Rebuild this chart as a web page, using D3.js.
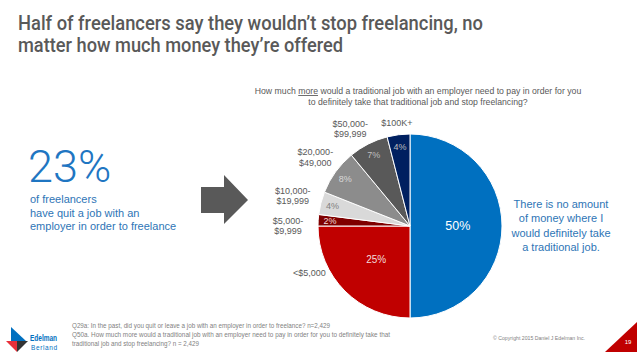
<!DOCTYPE html>
<html><head><meta charset="utf-8">
<script src="https://cdn.jsdelivr.net/npm/d3@7/dist/d3.min.js"></script>
<style>body{margin:0;background:#fff}svg{display:block}</style>
</head><body>
<script>
const categories = ["There is no amount", "<$5,000", "$5,000-\n$9,999", "$10,000-\n$19,999", "$20,000-\n$49,000", "$50,000-\n$99,999", "$100K+"];
const values = [50, 25, 2, 4, 8, 7, 4];
const colors = ["#0070C0", "#C00000", "#7F0000", "#D9D9D9", "#8C8C8C", "#595959", "#002060"];
const pctColors = ["#ffffff", "#f2dcdb", "#f2dcdb", "#7f7f7f", "#d9d9d9", "#bfbfbf", "#bfbfbf"];
const titleLines = ["Half of freelancers say they wouldn\u2019t stop freelancing, no", "matter how much money they\u2019re offered"];
const titleWidths = [465, 325];
const statValue = "23%";
const statLines = ["of freelancers", "have quit a job with an", "employer in order to freelance"];
const noAmountLines = ["There is no amount", "of money where I", "would definitely take", "a traditional job."];
const footLines = ["Q29a: In the past, did you quit or leave a job with an employer in order to freelance? n=2,429",
  "Q50a. How much more would a traditional job with an employer need to pay in order for you to definitely take that",
  "traditional job and stop freelancing? n = 2,429"];

const W = 638, H = 359;
const svg = d3.select("body").append("svg").attr("width", W).attr("height", H);
svg.append("rect").attr("width", W).attr("height", H).attr("fill", "#fff");

const sans = "'Liberation Sans',Arial,sans-serif";

// Title
svg.append("g").selectAll("text").data(titleLines).join("text")
  .attr("x", 18).attr("y", (d, i) => 29.5 + i * 22.5)
  .attr("font-family", "Roboto,sans-serif").attr("font-weight", 500).attr("font-size", 20.5).attr("fill", "#595959")
  .attr("textLength", (d, i) => titleWidths[i]).attr("lengthAdjust", "spacingAndGlyphs")
  .text(d => d);

// Question
const q = svg.append("text").attr("font-family", sans).attr("font-size", 8.7).attr("fill", "#595959").attr("text-anchor", "middle");
const q1 = q.append("tspan").attr("x", 418).attr("y", 94);
q1.append("tspan").text("How much ");
q1.append("tspan").attr("text-decoration", "underline").text("more");
q1.append("tspan").text(" would a traditional job with an employer need to pay in order for you");
q.append("tspan").attr("x", 418).attr("y", 105).text("to definitely take that traditional job and stop freelancing?");

// Left stat
svg.append("text").attr("x", 28).attr("y", 182).attr("font-family", "Roboto,sans-serif").attr("font-weight", 300)
  .attr("font-size", 45).attr("fill", "#1F76C2").text(statValue);
svg.append("g").selectAll("text").data(statLines).join("text")
  .attr("x", 30).attr("y", (d, i) => 203 + i * 13.5)
  .attr("font-family", sans).attr("font-size", 11).attr("fill", "#2E75B6").text(d => d);

// Arrow
svg.append("path").attr("d", "M201,187 L224,187 L224,175 L248,200 L224,224 L224,213 L201,213 Z").attr("fill", "#595959");

// Pie
const cx = 410, cy = 226, r = 92;
const pie = d3.pie().sort(null).value(d => d.v).startAngle(0).endAngle(2 * Math.PI);
const data = pie(values.map((v, i) => ({ v, c: categories[i], col: colors[i], pc: pctColors[i], i })));
const arc = d3.arc().innerRadius(0).outerRadius(r);
const g = svg.append("g").attr("transform", `translate(${cx},${cy})`);
g.selectAll("path").data(data).join("path").attr("d", arc)
  .attr("fill", d => d.data.col).attr("stroke", "#fff").attr("stroke-width", 1);

// percent labels
g.selectAll("text.pct").data(data).join("text").attr("class", "pct")
  .attr("transform", d => {
    const rr = d.data.v >= 20 ? r * 0.52 : r * 0.87;
    const c = d3.arc().innerRadius(rr).outerRadius(rr).centroid(d);
    return `translate(${c[0]},${c[1]})`;
  })
  .attr("dy", "0.35em").attr("text-anchor", "middle")
  .attr("font-family", sans)
  .attr("font-size", d => d.data.v >= 50 ? 12.5 : (d.data.v >= 20 ? 10 : 9))
  .attr("fill", d => d.data.pc).text(d => d.data.v + "%");

// outer labels (skip first)
const outerR = { 1: 111, 2: 122, 3: 121, 4: 117, 5: 114, 6: 104 };
const angleShift = { 1: 0.35, 2: -0.06, 3: 0, 4: 0, 5: -0.08, 6: 0 };
g.selectAll("text.lab").data(data.slice(1)).join("text").attr("class", "lab")
  .each(function (d) {
    const i = d.data.i;
    const a = (d.startAngle + d.endAngle) / 2 + angleShift[i];
    const x = Math.sin(a) * outerR[i], y = -Math.cos(a) * outerR[i];
    const lines = d.data.c.split("\n");
    const t = d3.select(this).attr("font-family", sans).attr("font-size", 9).attr("fill", "#595959").attr("text-anchor", "middle");
    lines.forEach((l, k) => {
      t.append("tspan").attr("x", x).attr("y", y + (k - (lines.length - 1) / 2) * 10.5 + 3.2).text(l);
    });
  });

// right text
svg.append("g").selectAll("text").data(noAmountLines).join("text")
  .attr("x", 561).attr("y", (d, i) => 208 + i * 14.3)
  .attr("text-anchor", "middle").attr("font-family", sans).attr("font-size", 11).attr("fill", "#2E75B6").text(d => d);

// footer
const footWidths = [258, 318, 127];
svg.append("g").selectAll("text").data(footLines).join("text")
  .attr("x", 72).attr("y", (d, i) => 328 + i * 9.2)
  .attr("font-family", sans).attr("font-size", 6.3).attr("fill", "#7f7f7f")
  .attr("textLength", (d, i) => footWidths[i]).attr("lengthAdjust", "spacingAndGlyphs").text(d => d);
svg.append("text").attr("x", 493).attr("y", 340).attr("font-family", sans).attr("font-size", 6).attr("fill", "#7f7f7f")
  .attr("textLength", 92).attr("lengthAdjust", "spacingAndGlyphs")
  .text("\u00A9 Copyright 2015 Daniel J Edelman Inc.");
// page triangle
svg.append("path").attr("d", "M605,352 L637,322 L637,352 Z").attr("fill", "#C00000");
svg.append("text").attr("x", 628).attr("y", 344).attr("text-anchor", "middle").attr("font-family", sans).attr("font-size", 6).attr("fill", "#fff").text("19");

// logo
svg.append("path").attr("d", "M11,327 L26,341 L11,341 Z").attr("fill", "#0070C0");
svg.append("path").attr("d", "M6,341 L17,341 L17,352 Z").attr("fill", "#E8303A");
svg.append("path").attr("d", "M17,341 L28,341 L17,352 Z").attr("fill", "#333333");
svg.append("text").attr("x", 30).attr("y", 341).attr("font-family", sans).attr("font-weight", "bold").attr("font-size", 8.5).attr("fill", "#0070C0")
  .attr("textLength", 27).attr("lengthAdjust", "spacingAndGlyphs").text("Edelman");
svg.append("text").attr("x", 31).attr("y", 349.5).attr("font-family", sans).attr("font-size", 6.5).attr("fill", "#0070C0").attr("letter-spacing", 0.6).text("Berland");
</script>
</body></html>
